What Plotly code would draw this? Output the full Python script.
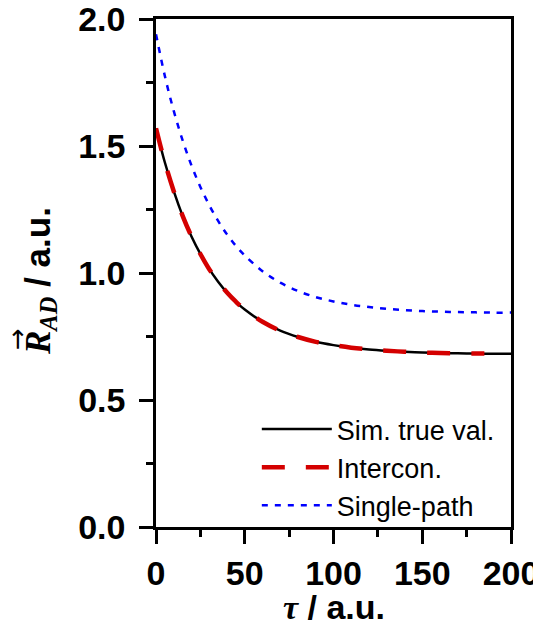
import plotly.graph_objects as go

# values
tau = [0, 5, 10, 15, 20, 25, 30, 35, 40, 45, 50, 60, 70, 80, 90, 100,
       110, 120, 130, 140, 150, 160, 170, 180, 190, 200]
sim_true = [1.57, 1.435, 1.322, 1.225, 1.144, 1.075, 1.015, 0.966, 0.923, 0.887,
            0.856, 0.808, 0.773, 0.748, 0.729, 0.716, 0.706, 0.699, 0.694, 0.690,
            0.687, 0.685, 0.684, 0.683, 0.682, 0.682]

tau_intercon = [0, 5, 10, 15, 20, 25, 30, 35, 40, 45, 50, 60, 70, 80, 90, 100,
                110, 120, 130, 140, 150, 160, 170, 180, 185]
intercon = [1.57, 1.435, 1.322, 1.225, 1.144, 1.075, 1.015, 0.966, 0.923, 0.887,
            0.856, 0.808, 0.773, 0.748, 0.729, 0.716, 0.706, 0.699, 0.694, 0.690,
            0.687, 0.685, 0.684, 0.683, 0.683]

single_path = [1.94, 1.775, 1.638, 1.522, 1.423, 1.339, 1.267, 1.205, 1.152, 1.107,
               1.069, 1.007, 0.962, 0.929, 0.905, 0.888, 0.875, 0.866, 0.859, 0.854,
               0.850, 0.848, 0.846, 0.845, 0.844, 0.844]

x_ticks = [0, 50, 100, 150, 200]
y_ticks = [0.0, 0.5, 1.0, 1.5, 2.0]

SANS = "Liberation Sans, Arial, sans-serif"
SERIF = "Liberation Serif, Times New Roman, serif"

fig = go.Figure()
fig.add_trace(go.Scatter(
    x=tau, y=sim_true, mode="lines", name="Sim. true val.",
    line=dict(color="black", width=2.5, shape="spline"),
))
fig.add_trace(go.Scatter(
    x=tau_intercon, y=intercon, mode="lines", name="Intercon.",
    line=dict(color="#d40000", width=4.5, dash="23px,21px", shape="spline"),
))
fig.add_trace(go.Scatter(
    x=tau, y=single_path, mode="lines", name="Single-path",
    line=dict(color="#0000ff", width=2.5, dash="6px,7px", shape="spline"),
))

axis_common = dict(
    showgrid=False, zeroline=False, automargin=False,
    showline=True, linecolor="black", linewidth=2.5, mirror=True,
    ticks="outside", ticklen=14, tickwidth=2.5, tickcolor="black",
    ticklabeloverflow="allow",
    tickfont=dict(family=SANS, size=34, color="black", weight="bold"),
)

fig.update_xaxes(
    range=[0, 200], tickvals=x_ticks,
    minor=dict(ticks="outside", ticklen=7, tickwidth=2.5, tickcolor="black", dtick=25),
    **axis_common,
)
fig.update_yaxes(
    range=[0, 2.0], tickvals=y_ticks, tickformat=".1f", ticklabelstandoff=7,
    minor=dict(ticks="outside", ticklen=7, tickwidth=2.5, tickcolor="black", dtick=0.25),
    **axis_common,
)

# axis titles as annotations for tight placement
fig.add_annotation(
    xref="paper", yref="paper", x=0.5, y=0, yshift=-59, yanchor="top",
    text=f'<span style="font-family:{SERIF}"><b><i>τ</i></b></span><b> / a.u.</b>',
    showarrow=False, font=dict(family=SANS, size=34, color="black"),
)
fig.add_annotation(
    xref="paper", yref="paper", x=0, xshift=-140, xanchor="left",
    y=0.5, yshift=-8, textangle=-90,
    text=(f'<span style="font-family:{SERIF}"><b><i>R</i></b>'
          f'<sub><b><i>AD</i></b></sub></span><b> / a.u.</b>'),
    showarrow=False, font=dict(family=SANS, size=35, color="black"),
)
# arrow over R
fig.add_annotation(
    xref="paper", yref="paper", x=0, xshift=-139, xanchor="center",
    y=0.5, yshift=-66, textangle=-90, text="→",
    showarrow=False, font=dict(family="DejaVu Sans", size=26, color="black"),
)

# the page body adds an 8px margin, so the figure is 8px smaller each way
fig.update_layout(
    width=533, height=617, autosize=False,
    margin=dict(l=148, r=30, t=11, b=98, autoexpand=False),
    paper_bgcolor="white", plot_bgcolor="white",
    showlegend=True,
    legend=dict(
        x=0.284, y=-0.006, xanchor="left", yanchor="bottom",
        bgcolor="rgba(0,0,0,0)", borderwidth=0,
        font=dict(family=SANS, size=27, color="black"),
        itemwidth=70, tracegroupgap=0,
    ),
)

fig.write_html("out.html")
